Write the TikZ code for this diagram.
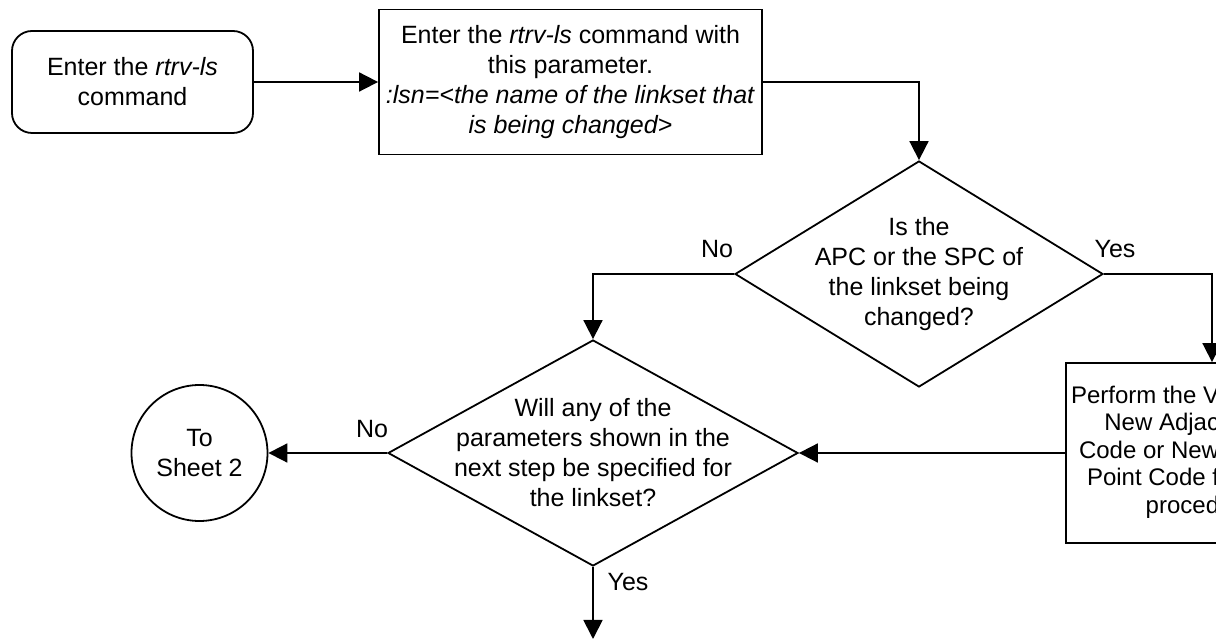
\documentclass[tikz,border=0pt]{standalone}
\usepackage{fontspec}
\setmainfont{Liberation Sans}
\usetikzlibrary{arrows.meta,positioning,shapes.geometric}

\begin{document}
\begin{tikzpicture}[
    x=0.5pt, y=-0.5pt,
    font=\fontsize{12.5}{15}\selectfont,
    line width=0.9pt,
    startbox/.style={draw, rounded corners=10pt, minimum width=120.5pt, minimum height=51pt,
                align=center, inner sep=0pt},
    box/.style={draw, minimum width=191.5pt, minimum height=72.5pt, align=center, inner sep=0pt},
    decision/.style={draw, diamond, inner sep=0pt},
    offpage/.style={draw, circle, minimum size=68pt, align=center, inner sep=0pt},
    arrow/.style={-{Triangle[length=9.5pt, width=9.5pt]}}
]

\clip (0,0) rectangle (1216,640);

% Nodes
\node[startbox] (start) at (132.5,82) {Enter the \textit{rtrv-ls}\\command};
\node[box] (rtrv) at (570.5,82) {Enter the \textit{rtrv-ls} command with\\this parameter.\\
    \textit{:lsn=<the name of the linkset that}\\\textit{is being changed>}};
\node[decision, minimum width=184pt, minimum height=113pt] (apc) at (919,274) {};
\node[align=center] (apctxt) at (apc.center) {Is the\\APC or the SPC of\\the linkset being\\changed?};
\node[decision, minimum width=205pt, minimum height=113pt] (param) at (593,453) {};
\node[align=center] (paramtxt) at (param.center) {Will any of the\\parameters shown in the\\next step be specified for\\the linkset?};
\node[offpage] (sheet2) at (199.5,453) {To\\Sheet 2};
\node[draw, minimum width=146pt, minimum height=90pt] (vrfy) at (1212,453) {};
\node[anchor=east, align=right, inner sep=0pt, font=\fontsize{12}{13.75}\selectfont]
    (vrfytxt) at (1220,452) {Perform the V\\New Adjac\\Code or New\\Point Code f\\proced};
\coordinate (next) at (593,639);

% Arrows
\draw[arrow] (start.east) -- (start.east -| rtrv.west);
\draw[arrow] (rtrv.east) -| (apc.north);
\draw[arrow] (apc.west) -| (param.north);
\draw[arrow] (apc.east) -| (vrfy.north);
\draw[arrow] (vrfy.west) -- (param.east);
\draw[arrow] (param.west) -- (sheet2.east);
\draw[arrow] (param.south) -- (next);

% Labels
\node (apcno) at (717,249) {No};
\node (apcyes) at (1115,249) {Yes};
\node (paramno) at (372,429) {No};
\node (paramyes) at (628,582) {Yes};

\end{tikzpicture}
\end{document}
